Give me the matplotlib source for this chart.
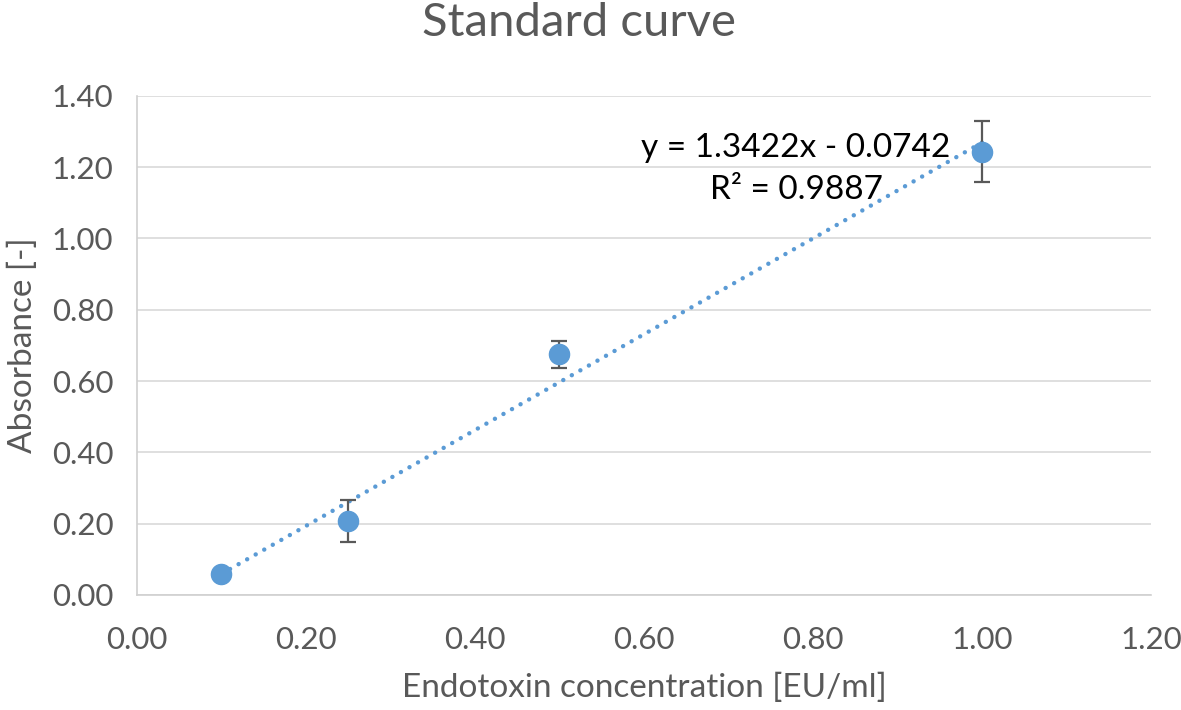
import matplotlib
matplotlib.use("Agg")
import matplotlib.pyplot as plt
import numpy as np

conc = [0.10, 0.25, 0.50, 1.00]
absorb = [0.060, 0.208, 0.675, 1.243]
err = [0.0, 0.058, 0.037, 0.086]
eq_text = "y = 1.3422x - 0.0742"
r2_text = "R² = 0.9887"
xticks = [0.0, 0.2, 0.4, 0.6, 0.8, 1.0, 1.2]
yticks = [0.0, 0.2, 0.4, 0.6, 0.8, 1.0, 1.2, 1.4]

plt.rcParams['font.family'] = ['Lato', 'DejaVu Sans']

fig = plt.figure(figsize=(11.81, 7.10), dpi=100)
ax = fig.add_axes([0.116, 0.162, 0.8586, 0.703])

blue = '#5B9BD5'
gray = '#595959'

# trendline
slope, intercept = np.polyfit(conc, absorb, 1)
xs = np.array([min(conc), max(conc)])
ax.plot(xs, slope * xs + intercept, color=blue, lw=3.2,
        dashes=(0.01, 2.2), dash_capstyle='round', zorder=2)

ax.errorbar(conc, absorb, yerr=err, fmt='none', ecolor=gray,
            elinewidth=1.6, capsize=6, capthick=1.6, zorder=3)
ax.plot(conc, absorb, 'o', color=blue, markersize=14.5, zorder=4)

ax.text(0.78, 1.254, eq_text, ha='center', va='center', fontsize=24, color='black')
ax.text(0.78, 1.136, r2_text, ha='center', va='center', fontsize=24, color='black')

ax.set_xlim(0, 1.2)
ax.set_ylim(0, 1.4)
ax.set_xticks(xticks)
ax.set_yticks(yticks)
ax.set_xticklabels([f"{v:.2f}" for v in xticks])
ax.set_yticklabels([f"{v:.2f}" for v in yticks])
ax.tick_params(length=0, labelsize=22.5, colors=gray)
ax.tick_params(axis='x', pad=22)
ax.tick_params(axis='y', pad=17)
ax.yaxis.grid(True, color='#D9D9D9', lw=1.2)
ax.set_axisbelow(True)
for s in ['top', 'right']:
    ax.spines[s].set_visible(False)
for s in ['left', 'bottom']:
    ax.spines[s].set_color('#D0D0D0')
    ax.spines[s].set_linewidth(1.2)

ax.set_xlabel("Endotoxin concentration [EU/ml]", fontsize=24, color=gray, labelpad=14)
ax.set_ylabel("Absorbance [-]", fontsize=24, color=gray, labelpad=10)
fig.text(0.49, 0.968, "Standard curve", ha='center', va='center', fontsize=34, color=gray)

fig.savefig("out.png", dpi=100)
